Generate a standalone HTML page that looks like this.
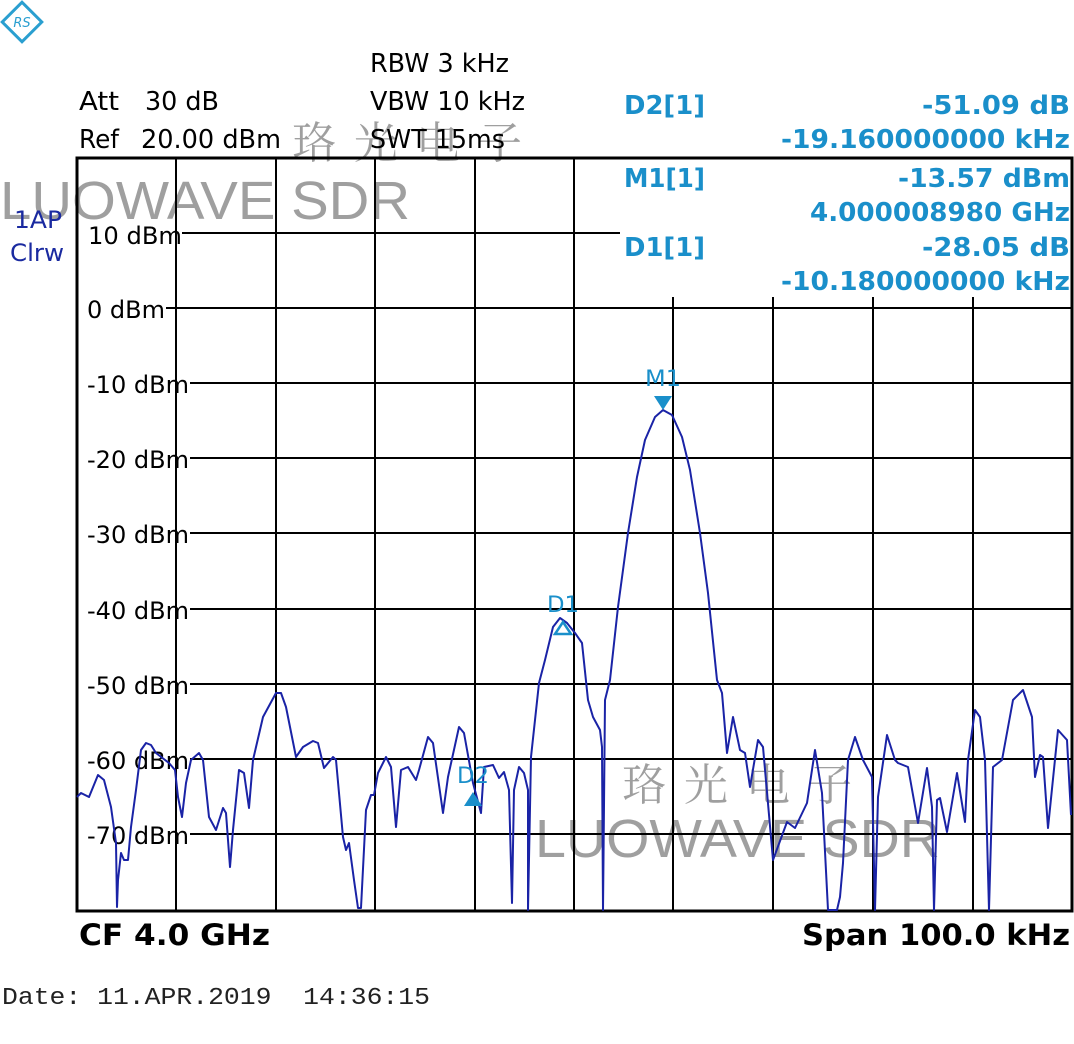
<!DOCTYPE html>
<html><head><meta charset="utf-8"><style>
html,body{margin:0;padding:0;background:#fff;}
svg{display:block;}
</style></head><body>
<svg width="1074" height="1044" viewBox="0 0 1074 1044" xmlns="http://www.w3.org/2000/svg" font-family="'DejaVu Sans','Liberation Sans',sans-serif">
<!-- logo -->
<g transform="translate(22,22) rotate(45)">
<rect x="-14" y="-14" width="28" height="28" fill="none" stroke="#2a9fd0" stroke-width="3"/>
</g>
<text x="22" y="27" font-size="13" fill="#2a9fd0" text-anchor="middle" font-style="italic">RS</text>
<!-- watermarks (behind) -->
<g fill="#888" opacity="0.8">
<text x="0" y="219" font-size="54" font-family="'Liberation Sans',sans-serif" textLength="410" lengthAdjust="spacingAndGlyphs">LUOWAVE SDR</text>
<text x="292" y="158" font-size="44" font-family="'Noto Serif CJK SC',serif" textLength="230" lengthAdjust="spacing">珞光电子</text>
<text x="535" y="857" font-size="54" font-family="'Liberation Sans',sans-serif" textLength="405" lengthAdjust="spacingAndGlyphs">LUOWAVE SDR</text>
<text x="622" y="800" font-size="44" font-family="'Noto Serif CJK SC',serif" textLength="230" lengthAdjust="spacing">珞光电子</text>
</g>
<!-- header texts -->
<g font-size="26" fill="#000">
<text x="79" y="110" textLength="40" lengthAdjust="spacingAndGlyphs">Att</text><text x="145" y="110" textLength="74" lengthAdjust="spacingAndGlyphs">30 dB</text>
<text x="79" y="148" textLength="40" lengthAdjust="spacingAndGlyphs">Ref</text><text x="141" y="148" textLength="140" lengthAdjust="spacingAndGlyphs">20.00 dBm</text>
<text x="370" y="72" textLength="139" lengthAdjust="spacingAndGlyphs">RBW 3 kHz</text>
<text x="370" y="110" textLength="155" lengthAdjust="spacingAndGlyphs">VBW 10 kHz</text>
<text x="370" y="148" textLength="135" lengthAdjust="spacingAndGlyphs">SWT 15ms</text>
</g>
<g font-size="26" fill="#1a8fca" font-weight="bold">
<text x="624" y="114" textLength="81" lengthAdjust="spacingAndGlyphs">D2[1]</text><text x="1070" y="114" text-anchor="end" textLength="148" lengthAdjust="spacingAndGlyphs">-51.09 dB</text>
<text x="1070" y="148" text-anchor="end" textLength="289" lengthAdjust="spacingAndGlyphs">-19.160000000 kHz</text>
<text x="624" y="187" textLength="81" lengthAdjust="spacingAndGlyphs">M1[1]</text><text x="1070" y="187" text-anchor="end" textLength="172" lengthAdjust="spacingAndGlyphs">-13.57 dBm</text>
<text x="1070" y="221" text-anchor="end" textLength="260" lengthAdjust="spacingAndGlyphs">4.000008980 GHz</text>
<text x="624" y="256" textLength="81" lengthAdjust="spacingAndGlyphs">D1[1]</text><text x="1070" y="256" text-anchor="end" textLength="148" lengthAdjust="spacingAndGlyphs">-28.05 dB</text>
<text x="1070" y="290" text-anchor="end" textLength="289" lengthAdjust="spacingAndGlyphs">-10.180000000 kHz</text>
</g>
<text x="14" y="228" font-size="24" fill="#1a2aa0" textLength="48" lengthAdjust="spacingAndGlyphs">1AP</text>
<text x="10" y="261" font-size="24" fill="#1a2aa0" textLength="54" lengthAdjust="spacingAndGlyphs">Clrw</text>
<!-- grid -->
<g stroke="#000" stroke-width="2">
<line x1="176" y1="158" x2="176" y2="911"/><line x1="276" y1="158" x2="276" y2="911"/>
<line x1="375" y1="158" x2="375" y2="911"/><line x1="475" y1="158" x2="475" y2="911"/>
<line x1="574" y1="158" x2="574" y2="911"/>
<line x1="673" y1="297" x2="673" y2="911"/><line x1="773" y1="297" x2="773" y2="911"/>
<line x1="873" y1="297" x2="873" y2="911"/><line x1="973" y1="297" x2="973" y2="911"/>
<line x1="182" y1="233" x2="620" y2="233"/>
<line x1="166" y1="308" x2="1072" y2="308"/><line x1="190" y1="383" x2="1072" y2="383"/>
<line x1="190" y1="458" x2="1072" y2="458"/><line x1="190" y1="533" x2="1072" y2="533"/>
<line x1="190" y1="609" x2="1072" y2="609"/><line x1="190" y1="684" x2="1072" y2="684"/>
<line x1="190" y1="759" x2="1072" y2="759"/><line x1="190" y1="834" x2="1072" y2="834"/>
</g>
<rect x="77" y="158" width="995" height="753" fill="none" stroke="#000" stroke-width="3"/>
<g font-size="24" fill="#000">
<text x="88" y="244" textLength="94" lengthAdjust="spacingAndGlyphs">10 dBm</text><text x="87" y="318" textLength="78" lengthAdjust="spacingAndGlyphs">0 dBm</text>
<text x="87" y="393" textLength="102" lengthAdjust="spacingAndGlyphs">-10 dBm</text><text x="87" y="468" textLength="102" lengthAdjust="spacingAndGlyphs">-20 dBm</text>
<text x="87" y="543" textLength="102" lengthAdjust="spacingAndGlyphs">-30 dBm</text><text x="87" y="619" textLength="102" lengthAdjust="spacingAndGlyphs">-40 dBm</text>
<text x="87" y="694" textLength="102" lengthAdjust="spacingAndGlyphs">-50 dBm</text><text x="87" y="769" textLength="102" lengthAdjust="spacingAndGlyphs">-60 dBm</text>
<text x="87" y="844" textLength="102" lengthAdjust="spacingAndGlyphs">-70 dBm</text>
</g>
<!-- trace -->
<polyline fill="none" stroke="#1a23a6" stroke-width="2" stroke-linejoin="round" points="
77,797 81,793 89,797 98,775 104,780 111,807 116,843 117,907 118,880 121,853 124,860 128,860 131,827 136,790 141,750 146,743 151,745 156,753 169,763 175,770 178,797 182,817 186,783 191,760 199,753 203,760 209,817 216,830 223,808 226,813 230,867 233,830 239,770 244,773 249,808 253,760 263,717 276,693 281,693 286,707 296,757 303,747 313,741 318,743 324,768 333,757 336,760 343,837 346,850 349,843 354,880 358,908 361,908 366,810 371,795 374,795 378,773 386,757 391,767 396,827 401,770 408,767 416,780 419,770 428,737 433,743 443,813 448,777 459,727 464,733 473,783 481,813 484,767 493,765 499,778 504,772 509,790 512,903 514,790 519,767 524,773 528,790 528,910 531,757 539,683 545,660 553,627 560,618 567,623 575,633 582,643 588,700 593,717 600,730 602,747 603,910 605,700 610,680 618,607 628,533 637,477 645,440 655,417 663,410 672,415 682,437 690,470 700,533 708,593 717,680 722,693 727,753 733,717 740,750 745,753 750,787 758,740 763,747 773,860 787,822 795,828 807,803 815,750 822,793 828,910 837,910 840,897 843,863 848,760 855,737 863,760 872,777 875,910 878,797 887,735 895,760 898,763 908,767 918,823 927,768 932,807 934,910 937,800 940,798 947,832 957,773 965,822 968,760 975,710 980,717 985,760 989,910 993,767 1002,760 1013,700 1023,690 1032,717 1035,777 1040,755 1043,757 1048,828 1058,730 1067,740 1071,815"/>
<!-- markers -->
<g fill="#1a8fca" font-size="22">
<polygon points="654,396 672,396 663,410"/>
<text x="663" y="386" text-anchor="middle" textLength="36" lengthAdjust="spacingAndGlyphs">M1</text>
<polygon points="563,622 571,634 555,634" fill="none" stroke="#1a8fca" stroke-width="2.5"/>
<text x="563" y="612" text-anchor="middle" textLength="32" lengthAdjust="spacingAndGlyphs">D1</text>
<polygon points="473,792 482,806 464,806"/>
<text x="473" y="783" text-anchor="middle" textLength="32" lengthAdjust="spacingAndGlyphs">D2</text>
</g>
<text x="79" y="945" font-size="29" fill="#000" font-weight="bold" textLength="191" lengthAdjust="spacingAndGlyphs">CF 4.0 GHz</text>
<text x="1070" y="945" font-size="29" fill="#000" font-weight="bold" text-anchor="end" textLength="268" lengthAdjust="spacingAndGlyphs">Span 100.0 kHz</text>
<text x="2" y="1004" font-size="24" fill="#222" font-family="'Liberation Mono',monospace" textLength="428" lengthAdjust="spacingAndGlyphs" xml:space="preserve">Date: 11.APR.2019  14:36:15</text>
</svg>
</body></html>
